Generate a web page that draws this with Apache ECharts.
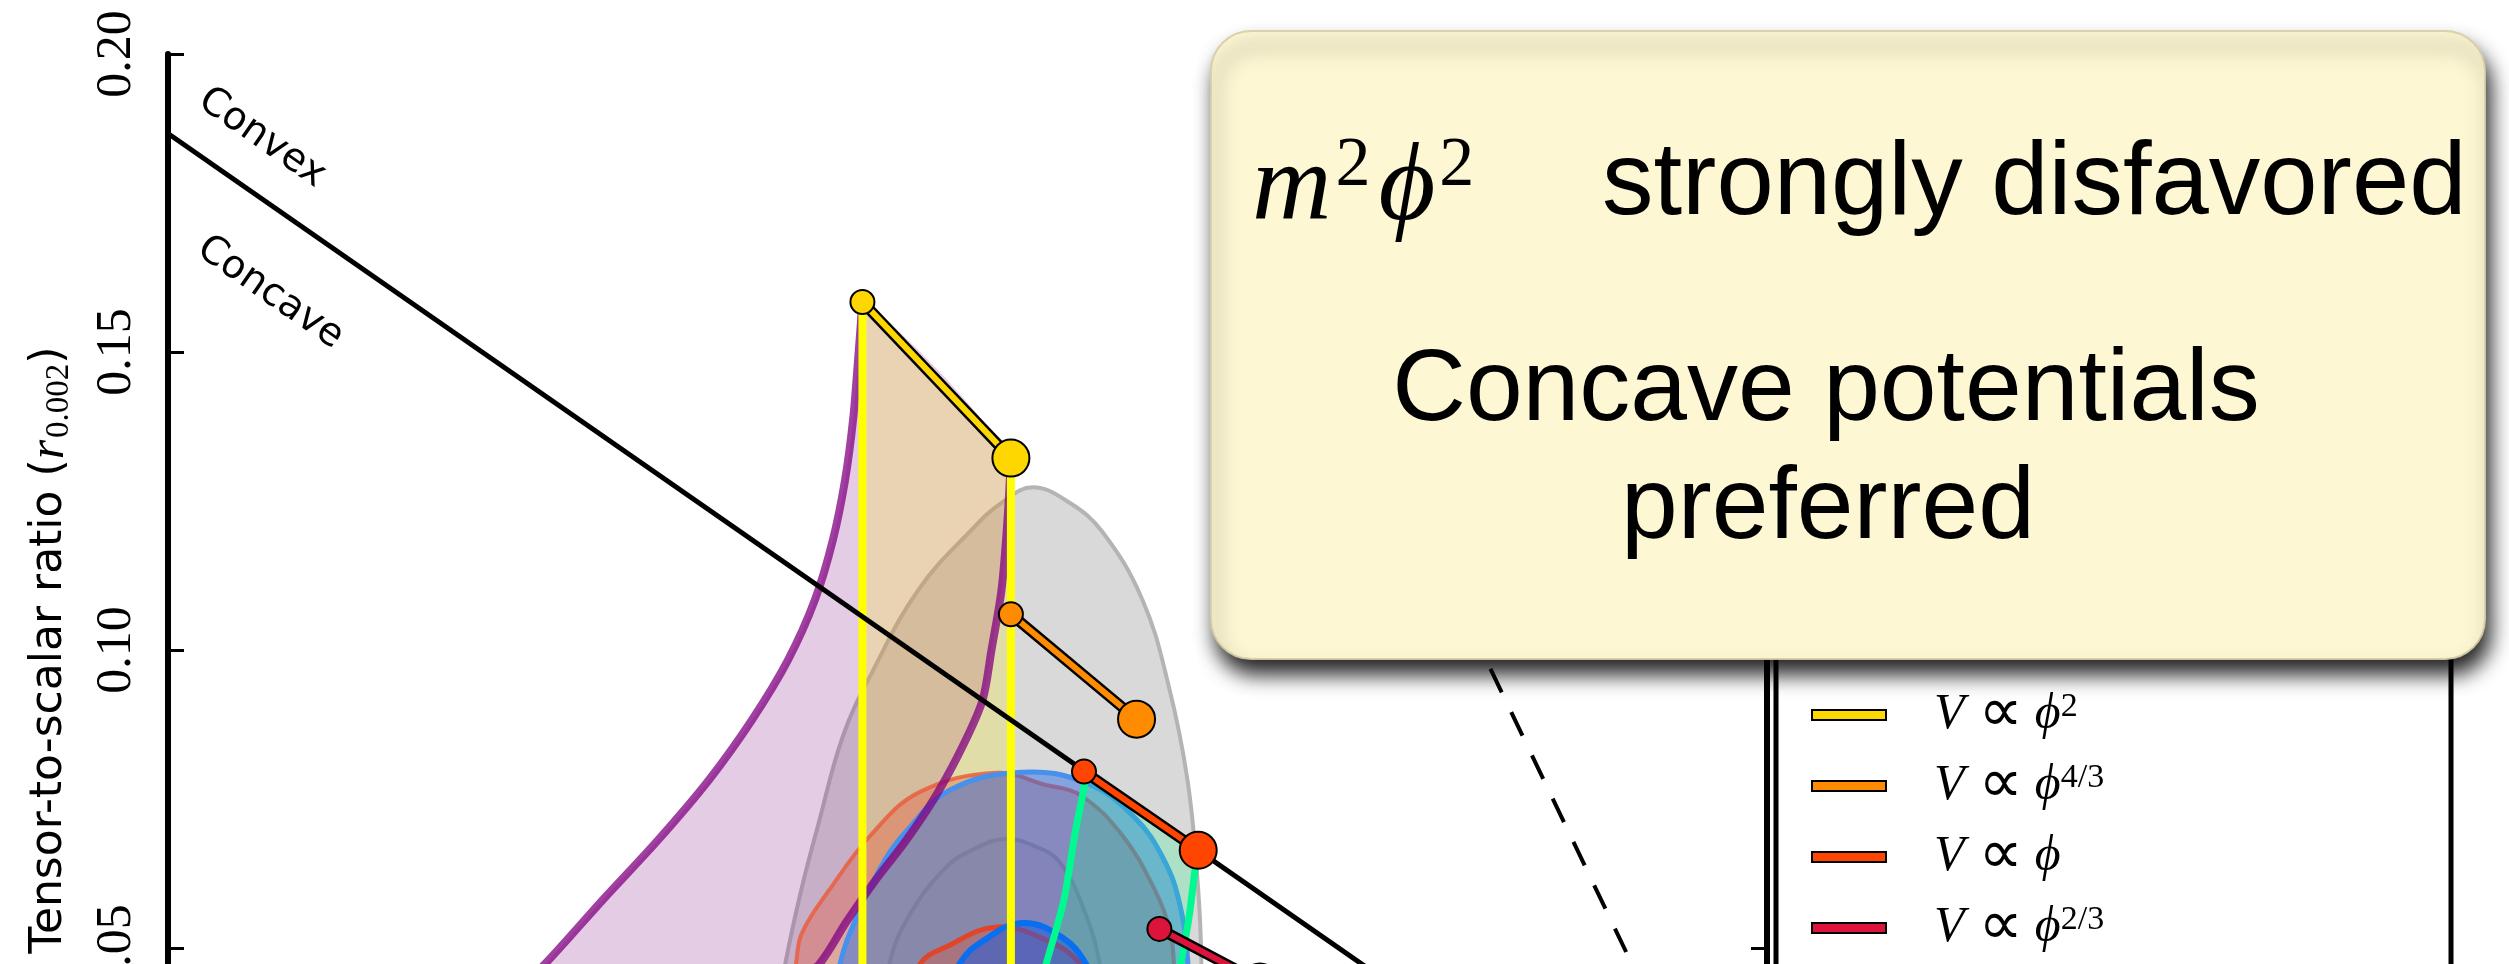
<!DOCTYPE html>
<html>
<head>
<meta charset="utf-8">
<script src="https://cdn.jsdelivr.net/npm/echarts@6/dist/echarts.min.js"></script>
<style>
  html, body { margin: 0; padding: 0; background: #fff; }
  #chart { width: 2509px; height: 964px; }
</style>
</head>
<body>
<div id="chart"></div>
<script>
// ---- axis ticks ----
const xTicks = [0.94, 0.96, 0.98, 1.00];
const yTicks = [0.00, 0.05, 0.10, 0.15, 0.20];

// ---- monomial potentials: [ns, r] at N*=50 and N*=60 ----
const potExponents = ['2', '4/3', '1', '2/3'];
const potColors = ['#FFD700', '#FF8C00', '#FF4500', '#DC143C'];
const phi2Pts  = [[0.9604, 0.1584], [0.9669, 0.1322]];
const phi43Pts = [[0.9669, 0.1060], [0.9724, 0.0884]];
const phi1Pts  = [[0.9701, 0.0796], [0.9751, 0.0664]];
const phi23Pts = [[0.9734, 0.0532], [0.9778, 0.0443]];

// ---- reference lines ----
const convexConcaveLine = [[0.93, 0.18667], [1.00, 0.0]];
const powerLawLine = [[0.977, 0.184], [1.00, 0.0]];

// ---- natural inflation edges (N*=50 and N*=60) ----
const naturalN50 = [
  [0.9604, 0.1584], [0.96021, 0.1487], [0.95999, 0.1386], [0.95964, 0.1285],
  [0.95911, 0.1185], [0.95832, 0.1084], [0.95714, 0.0983], [0.95557, 0.0883],
  [0.95368, 0.0782], [0.95145, 0.0681], [0.94904, 0.0581], [0.94650, 0.0473],
  [0.94388, 0.0373]
];
const naturalN60 = [
  [0.9669, 0.1322], [0.96675, 0.1218], [0.96649, 0.1101], [0.96605, 0.1000],
  [0.96566, 0.0916], [0.96482, 0.0841], [0.96364, 0.0757], [0.96232, 0.0681],
  [0.96088, 0.0609], [0.95970, 0.0544], [0.95851, 0.0473], [0.95550, 0.0360]
];

// ---- green band edges starting at the linear-potential points ----
const greenN50 = [[0.97015, 0.0796], [0.97010, 0.0770], [0.96971, 0.0693], [0.96922, 0.0581], [0.96844, 0.0473], [0.96760, 0.0360]];
const greenN60 = [[0.9751, 0.0664], [0.97496, 0.0631], [0.97470, 0.0552], [0.97435, 0.0475], [0.97380, 0.0360]];

// ---- joint constraints (68% / 95%) ----
const greyC95 = [[0.9560,0.025],[0.95702,0.0473],[0.95772,0.0597],[0.95846,0.0706],[0.95956,0.0857],[0.96083,0.0963],[0.96285,0.1101],[0.96526,0.1205],[0.96649,0.1247],[0.96785,0.1273],[0.96947,0.1247],[0.97091,0.1198],[0.97266,0.1084],[0.97380,0.0941],[0.97463,0.0782],[0.97507,0.0614],[0.97524,0.0473],[0.9752,0.025],[0.9660,0.008]];
const greyC68 = [[0.9612,0.035],[0.96158,0.0473],[0.96241,0.0552],[0.96408,0.0636],[0.96539,0.0668],[0.96662,0.0683],[0.96781,0.0673],[0.96904,0.0644],[0.97022,0.0552],[0.97079,0.0473],[0.9712,0.035],[0.9662,0.020]];
const redC95 = [[0.9570,0.035],[0.95749,0.0473],[0.95775,0.0525],[0.95894,0.0597],[0.96078,0.0690],[0.96292,0.0762],[0.96629,0.0794],[0.96839,0.0774],[0.96992,0.0757],[0.97176,0.0690],[0.97321,0.0597],[0.97386,0.0530],[0.97404,0.0473],[0.9742,0.035],[0.9660,0.018]];
const redC68 = [[0.9620,0.038],[0.96292,0.0473],[0.96423,0.0505],[0.96620,0.0535],[0.96817,0.0518],[0.96992,0.0473],[0.9710,0.038],[0.9665,0.025]];
const blueC95 = [[0.9590,0.035],[0.95942,0.0473],[0.96029,0.0564],[0.96139,0.0648],[0.96226,0.0693],[0.96423,0.0765],[0.96739,0.0795],[0.97019,0.0777],[0.97229,0.0720],[0.97360,0.0648],[0.97430,0.0572],[0.97465,0.0473],[0.9747,0.035],[0.9672,0.018]];
const blueC68 = [[0.9640,0.040],[0.96465,0.0473],[0.96561,0.0510],[0.96739,0.0542],[0.96914,0.0518],[0.97019,0.0473],[0.9710,0.040],[0.9675,0.030]];

// ---- region labels along the convex/concave divider ----
const dividerLabels = [[0.93411, 0.1859, 'Convex'], [0.93447, 0.1599, 'Concave']];

// ---------------------------------------------------------------
const chart = echarts.init(document.getElementById('chart'), null, { renderer: 'canvas' });

function region(pts, fill, stroke, lineWidth, smooth, z) {
  return {
    type: 'custom', coordinateSystem: 'cartesian2d', silent: true, z: z || 2,
    data: [pts[0]],
    renderItem: (params, api) => ({
      type: 'polygon',
      shape: { points: pts.map(p => api.coord(p)), smooth: smooth },
      style: stroke ? { fill: fill, stroke: stroke, lineWidth: lineWidth }
                    : { fill: fill, stroke: 'none' }
    })
  };
}
function curve(pts, color, lineWidth, z) {
  return {
    type: 'custom', coordinateSystem: 'cartesian2d', silent: true, z: z || 3,
    data: [pts[0]],
    renderItem: (params, api) => ({
      type: 'polyline',
      shape: { points: pts.map(p => api.coord(p)), smooth: 0.3 },
      style: { fill: 'none', stroke: color, lineWidth: lineWidth, lineCap: 'round' }
    })
  };
}
function straight(pts, color, width, z, type) {
  return {
    type: 'line', data: pts, symbol: 'none', silent: true, z: z,
    lineStyle: { color: color, width: width, type: type || 'solid', cap: 'butt' }
  };
}

const series = [];
// joint constraint regions and model bands
series.push(region(greyC95, 'rgba(170,170,170,0.45)', '#B4B4B4', 4, 0.4));
series.push(region(greyC68, 'rgba(120,120,120,0.12)', '#A6A6A6', 4, 0.4));
series.push(region(naturalN50.concat(naturalN60.slice().reverse()), 'rgba(150,50,150,0.25)', null, 0, 0.3));
series.push(region([phi2Pts[0], phi2Pts[1], [phi2Pts[1][0], 0], [phi2Pts[0][0], 0]], 'rgba(255,235,0,0.22)', null, 0, 0));
series.push(region(redC95, 'rgba(230,80,50,0.35)', 'rgba(232,95,65,0.85)', 4, 0.4));
series.push(region(blueC95, 'rgba(30,100,230,0.45)', '#4690EE', 5, 0.4));
series.push(region(greenN50.concat(greenN60.slice().reverse()), 'rgba(0,255,127,0.2)', null, 0, 0.3));
series.push(region(redC68, 'rgba(230,80,50,0.35)', '#E0452A', 5, 0.4));
series.push(region(blueC68, 'rgba(20,90,230,0.5)', '#0A6EF0', 6, 0.4));

// band edges
series.push(curve(naturalN50, 'rgba(128,0,128,0.75)', 8, 3));
series.push(curve(naturalN60, 'rgba(128,0,128,0.75)', 8, 3));
phi2Pts.forEach(p => series.push(straight([[p[0], p[1]], [p[0], 0]], '#FFFF00', 8, 3)));
series.push(curve(greenN50, '#00FA90', 7, 3));
series.push(curve(greenN60, '#00FA90', 7, 3));

// divider lines
series.push(straight(convexConcaveLine, '#000', 5, 4));
series.push(straight(powerLawLine, '#000', 4, 4, [26, 22]));

// monomial potential predictions
const potPts = [phi2Pts, phi43Pts, phi1Pts, phi23Pts];
const potNames = potExponents.map(e => 'V ∝ ϕ^' + e);
potPts.forEach((pts, i) => {
  series.push(straight(pts, '#000', 11, 5));
  series.push(straight(pts, potColors[i], 6, 5));
});
potPts.forEach((pts, i) => {
  series.push({
    type: 'scatter', name: potNames[i], data: pts, z: 6,
    symbol: 'circle',
    symbolSize: (v, p) => (p.dataIndex === 0 ? 24 : 37),
    itemStyle: { color: potColors[i], borderColor: '#000', borderWidth: 2, opacity: 1 }
  });
});

// convex / concave labels
series.push({
  type: 'scatter', data: dividerLabels, symbolSize: 0, silent: true, z: 6,
  itemStyle: { opacity: 1 },
  label: {
    show: true, position: 'inside', rotate: -34.8,
    formatter: p => p.data[2],
    fontFamily: 'DejaVu Sans', fontSize: 39, color: '#000',
    textBorderWidth: 0, opacity: 1
  }
});

const axisLineStyle = { color: '#000', width: 6 };
const tickStyle = { color: '#000', width: 3 };

const option = {
  animation: false,
  backgroundColor: '#ffffff',
  grid: { left: 168, top: 54, width: 1599, height: 1192, outerBoundsMode: 'none', containLabel: false },
  xAxis: [
    {
      type: 'value', min: 0.93, max: 1.00, position: 'bottom',
      axisLine: { lineStyle: axisLineStyle },
      axisTick: { inside: true, length: 16, lineStyle: tickStyle, customValues: xTicks },
      axisLabel: { customValues: xTicks, formatter: v => v.toFixed(2), fontFamily: 'Liberation Serif', fontSize: 50, color: '#000' },
      splitLine: { show: false }
    },
    {
      type: 'value', min: 0.93, max: 1.00, position: 'top',
      axisLine: { lineStyle: axisLineStyle },
      axisTick: { inside: true, length: 16, lineStyle: tickStyle, customValues: xTicks },
      axisLabel: { show: false },
      splitLine: { show: false }
    }
  ],
  yAxis: [
    {
      type: 'value', min: yTicks[0], max: yTicks[yTicks.length - 1], interval: 0.05, position: 'left',
      axisLine: { lineStyle: axisLineStyle },
      axisTick: { inside: true, length: 16, lineStyle: tickStyle },
      axisLabel: { rotate: 90, margin: 26, formatter: v => v.toFixed(2), fontFamily: 'Liberation Serif', fontSize: 50, color: '#000' },
      splitLine: { show: false },
      name: '{t|Tensor-to-scalar ratio (}{r|r}{s|0.002}{t|)}',
      nameLocation: 'middle', nameRotate: 90, nameGap: 92,
      nameTextStyle: {
        rich: {
          t: { fontFamily: 'DejaVu Sans', fontSize: 44, color: '#000', lineHeight: 52 },
          r: { fontFamily: 'Liberation Serif', fontStyle: 'italic', fontSize: 50, color: '#000', lineHeight: 52, padding: [0, 2, 0, 0] },
          s: { fontFamily: 'Liberation Serif', fontSize: 33, color: '#000', lineHeight: 36, verticalAlign: 'bottom' }
        }
      }
    },
    {
      type: 'value', min: yTicks[0], max: yTicks[yTicks.length - 1], interval: 0.05, position: 'right',
      axisLine: { lineStyle: axisLineStyle },
      axisTick: { inside: true, length: 16, lineStyle: tickStyle },
      axisLabel: { show: false },
      splitLine: { show: false }
    }
  ],
  legend: {
    orient: 'vertical', left: 1806, top: 679, height: 700, z: 5,
    itemWidth: 74, itemHeight: 10, itemGap: 9,
    selectedMode: false,
    data: potNames.map((n, i) => ({
      name: n, icon: 'rect',
      itemStyle: { color: potColors[i], borderColor: '#000', borderWidth: 2 }
    })),
    formatter: name => {
      const e = name.split('^')[1];
      return '{sp| }{v|V}{op|∝}{v|ϕ}' + (e === '1' ? '' : '{sup|' + e + '}');
    },
    textStyle: {
      color: '#000',
      rich: {
        sp: { width: 43, fontSize: 20, lineHeight: 50 },
        v: { fontFamily: 'Liberation Serif', fontStyle: 'italic', fontSize: 50, lineHeight: 50, color: '#000' },
        op: { fontFamily: 'DejaVu Sans', fontSize: 62, lineHeight: 50, color: '#000', padding: [0, 12, 0, 14] },
        sup: { fontFamily: 'Liberation Serif', fontSize: 34, lineHeight: 24, verticalAlign: 'top', color: '#000' }
      }
    }
  },
  graphic: [
    // legend frame
    { type: 'rect', z: 3, silent: true,
      shape: { x: 1776, y: 560, width: 675, height: 700 },
      style: { fill: '#fff', stroke: '#000', lineWidth: 5 } },
    // callout box
    { type: 'rect', z: 100, silent: true,
      shape: { x: 1211, y: 31, width: 1274, height: 628, r: 40 },
      style: { fill: '#FDF7D3', stroke: 'rgba(215,205,165,0.9)', lineWidth: 2,
               shadowBlur: 20, shadowOffsetX: 5, shadowOffsetY: 15, shadowColor: 'rgba(0,0,0,0.85)' } },
    { type: 'text', z: 101, silent: true, x: 1252, y: 190,
      style: {
        text: '{m|m}{s|2}{m|ϕ}{s|2}', fill: '#000', verticalAlign: 'middle',
        rich: {
          m: { fontFamily: 'Liberation Serif', fontStyle: 'italic', fontSize: 110, lineHeight: 116 },
          s: { fontFamily: 'Liberation Serif', fontSize: 70, lineHeight: 20, verticalAlign: 'top', padding: [0, 8, 0, 4] }
        }
      } },
    { type: 'text', z: 101, silent: true, x: 1602, y: 186,
      style: { text: 'strongly disfavored', fill: '#000', fontFamily: 'Liberation Sans', fontSize: 103, align: 'left', verticalAlign: 'middle' } },
    { type: 'text', z: 101, silent: true, x: 1826, y: 392,
      style: { text: 'Concave potentials', fill: '#000', fontFamily: 'Liberation Sans', fontSize: 102, align: 'center', verticalAlign: 'middle' } },
    { type: 'text', z: 101, silent: true, x: 1828, y: 510,
      style: { text: 'preferred', fill: '#000', fontFamily: 'Liberation Sans', fontSize: 102, align: 'center', verticalAlign: 'middle' } }
  ],
  series: series
};

chart.setOption(option);
</script>
</body>
</html>
